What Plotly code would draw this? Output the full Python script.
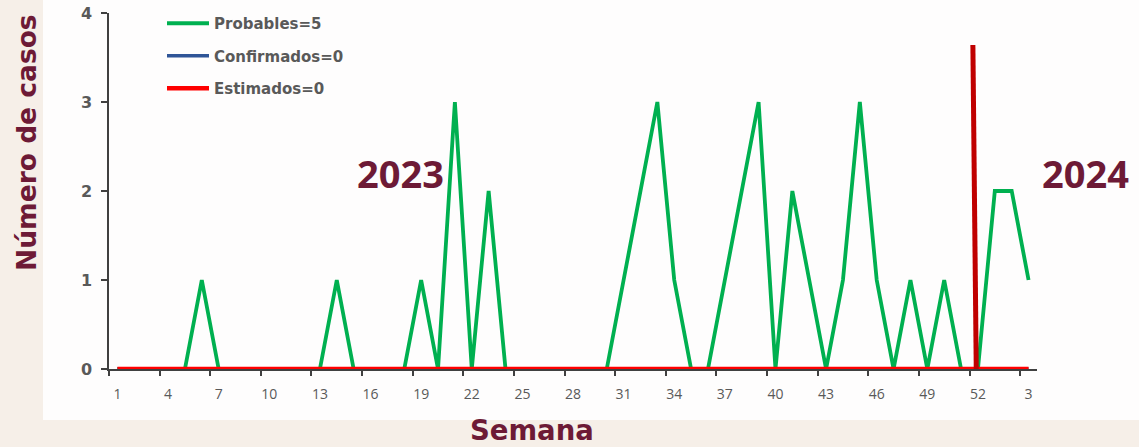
import plotly.graph_objects as go

# ---- data ----
weeks_2023 = list(range(1, 53))
weeks_2024 = [1, 2, 3]
week_labels = [str(w) for w in weeks_2023 + weeks_2024]

probables = [0, 0, 0, 0, 0, 1, 0, 0, 0, 0,
             0, 0, 0, 1, 0, 0, 0, 0, 1, 0,
             3, 0, 2, 0, 0, 0, 0, 0, 0, 0,
             1, 2, 3, 1, 0, 0, 1, 2, 3, 0,
             2, 1, 0, 1, 3, 1, 0, 1, 0, 1,
             0, 0,
             2, 2, 1]
confirmados = [0] * 55
estimados = [0] * 55

series_names = ["Probables=5", "Confirmados=0", "Estimados=0"]
tick_every = 3
year_labels = ["2023", "2024"]
y_title = "Número de casos"
x_title = "Semana"
separator_top = 3.64  # value height of the year separator

# ---- styles ----
GREEN = "#00B050"
BLUE = "#2F5597"
RED = "#FF0000"
DARKRED = "#C00000"
MAROON = "#6D1A36"
GRAY = "#595959"
AXIS = "#404040"
FONT = "Open Sans"
WIDE = "DejaVu Sans"

W, H = 1139, 447
L, R, T, B = 109, 102, 13, 78
PW, PH = W - L - R, H - T - B


def px(x):
    return (x - L) / PW


def py(y):
    return (H - B - y) / PH


xpos = list(range(len(week_labels)))

fig = go.Figure()
for name, vals, col, grp, wd in [(series_names[0], probables, GREEN, "a", 3.8),
                                 (series_names[1], confirmados, BLUE, "b", 3.6),
                                 (series_names[2], estimados, RED, "c", 4.6)]:
    fig.add_trace(go.Scatter(x=xpos, y=vals, mode="lines", name=name,
                             legendgroup=grp,
                             line=dict(color=col, width=wd)))

tickvals = xpos[::tick_every]
ticktext = week_labels[::tick_every]

sep_idx = len(weeks_2023) - 1

fig.update_layout(
    width=W, height=H,
    margin=dict(l=L, r=R, t=T, b=B, autoexpand=False),
    paper_bgcolor="#F6EFE8",
    plot_bgcolor="white",
    showlegend=True,
    legend=dict(x=px(162), y=py(7), xanchor="left", yanchor="top",
                bgcolor="rgba(0,0,0,0)", traceorder="grouped",
                tracegroupgap=10, itemwidth=42,
                font=dict(family=WIDE, size=15, color=GRAY, weight="bold")),
    xaxis=dict(range=[-0.5, len(xpos) - 0.5], automargin=False,
               layer="below traces",
               tickmode="array", tickvals=tickvals, ticktext=ticktext,
               ticks="outside", ticklen=11, tickcolor="rgba(0,0,0,0)",
               tickfont=dict(family=FONT, size=14, color=GRAY),
               showgrid=False, zeroline=False,
               showline=True, linecolor=AXIS, linewidth=1.5,
               minor=dict(tick0=-0.5, dtick=tick_every, ticks="outside",
                          ticklen=5, tickcolor=AXIS, tickwidth=1.5,
                          showgrid=False)),
    yaxis=dict(range=[0, 4], tickvals=[0, 1, 2, 3, 4], automargin=False,
               layer="below traces",
               ticks="outside", ticklen=6, tickcolor=AXIS, tickwidth=1.5,
               ticklabelstandoff=6,
               tickfont=dict(family=WIDE, size=16, color=GRAY, weight="bold"),
               showgrid=False, zeroline=False,
               showline=True, linecolor=AXIS, linewidth=1.5),
    shapes=[
        dict(type="rect", xref="paper", yref="paper", layer="below",
             x0=px(43), x1=px(W + 5), y0=py(420), y1=py(-5),
             fillcolor="#FEFDFD", line=dict(width=0)),
        dict(type="line", xref="x", yref="y",
             x0=sep_idx - 0.1, y0=0, x1=sep_idx - 0.3, y1=separator_top,
             line=dict(color=DARKRED, width=5)),
    ],
    annotations=[
        dict(text=year_labels[0], xref="paper", yref="paper",
             x=px(400), y=py(173),
             showarrow=False, xanchor="center", yanchor="middle",
             font=dict(family=FONT, size=38, color=MAROON, weight="bold")),
        dict(text=year_labels[1], xref="paper", yref="paper",
             x=px(1085), y=py(173),
             showarrow=False, xanchor="center", yanchor="middle",
             font=dict(family=FONT, size=38, color=MAROON, weight="bold")),
        dict(text=y_title, xref="paper", yref="paper",
             x=px(26), y=py(143), textangle=-90,
             showarrow=False, xanchor="center", yanchor="middle",
             font=dict(family=WIDE, size=26.5, color=MAROON, weight="bold")),
        dict(text=x_title, xref="paper", yref="paper",
             x=px(532), y=py(430),
             showarrow=False, xanchor="center", yanchor="middle",
             font=dict(family=WIDE, size=27.5, color=MAROON, weight="bold")),
    ],
)

fig.write_html("out.html",
               config={"displayModeBar": False},
               post_script="document.body.style.margin='0';document.body.style.overflow='hidden';")
